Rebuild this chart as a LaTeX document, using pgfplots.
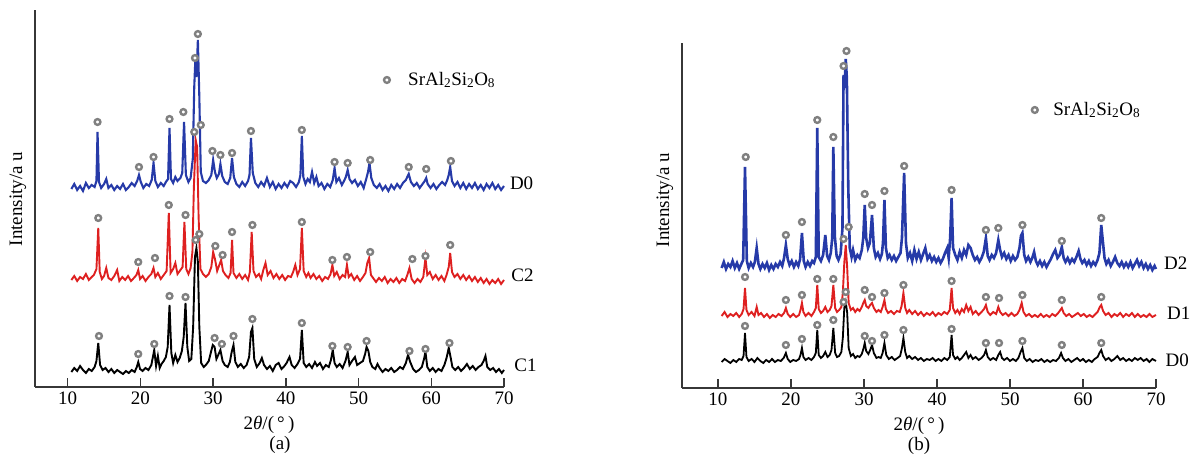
\documentclass[border=0pt]{standalone}
\usepackage{pgfplots}
\pgfplotsset{compat=1.18}
\usepackage{fontspec}
\setmainfont{Liberation Serif}
\definecolor{xblue}{RGB}{38,58,168}
\definecolor{xred}{RGB}{222,32,32}
\definecolor{xgray}{RGB}{128,128,128}
\definecolor{axgray}{RGB}{55,55,55}
\newcommand{\ff}{\fontsize{19}{22}\selectfont}
\pgfplotsset{
  xrdaxis/.style={
    scale only axis,
    axis lines=left,
    axis line style={-, axgray, line width=1.4pt},
    xtick={10,20,...,70},
    ytick=\empty,
    xmax=70, ymin=0,
    tick align=inside,
    major tick length=9pt,
    tick style={axgray, line width=1.4pt},
    xticklabel style={font=\ff, yshift=-1pt},
    /pgf/number format/assume math mode=true,
    clip=false,
    anchor=south west,
  },
  mk/.style={only marks, mark=*, mark size=2.9pt, mark options={draw=xgray, fill=white, line width=2.4pt}},
}
\begin{document}
\begin{tikzpicture}
\useasboundingbox (0pt,0pt) rectangle (1192pt,454pt);
% ---------------- panel (a) ----------------
\begin{axis}[xrdaxis, at={(35pt,67pt)}, width=469pt, height=377pt, xmin=5.5, ymax=377]
% D0 blue
\addplot[xblue, line width=2.1pt] coordinates {
(10.5,198)(10.9,203)(11.3,197)(11.7,201)(12.1,196)(12.5,204)(12.9,199)(13.3,202)(13.7,200)(13.95,206)(14.1,255)(14.3,205)(14.6,199)(15.0,203)(15.3,208)(15.6,199)(16.0,202)(16.4,197)(16.8,201)(17.2,198)(17.6,203)(18.0,197)(18.4,200)(18.8,204)(19.2,201)(19.55,206)(19.8,212)(20.05,205)(20.4,199)(20.8,203)(21.2,201)(21.55,207)(21.8,224)(22.05,206)(22.4,200)(22.8,204)(23.2,201)(23.5,205)(23.8,208)(24.0,259)(24.2,208)(24.5,204)(24.8,210)(25.1,206)(25.5,209)(25.75,214)(26.0,265)(26.25,212)(26.6,205)(26.9,209)(27.2,228)(27.4,300)(27.55,327)(27.7,310)(27.9,347)(28.1,290)(28.3,215)(28.6,206)(29.0,204)(29.4,207)(29.75,212)(30.0,227)(30.25,215)(30.5,209)(30.8,213)(31.0,223)(31.25,211)(31.6,205)(32.0,203)(32.35,209)(32.6,229)(32.85,210)(33.2,203)(33.6,200)(34.0,205)(34.4,201)(34.8,206)(35.0,212)(35.2,249)(35.45,214)(35.8,204)(36.2,200)(36.6,205)(37.0,201)(37.4,209)(37.8,200)(38.2,205)(38.6,198)(39.0,203)(39.4,199)(39.8,204)(40.2,200)(40.6,206)(41.0,204)(41.4,200)(41.8,205)(42.0,212)(42.2,251)(42.4,210)(42.7,203)(43.0,208)(43.3,205)(43.6,215)(43.9,204)(44.2,210)(44.5,201)(44.9,204)(45.3,198)(45.7,203)(46.1,200)(46.45,207)(46.7,219)(46.95,205)(47.3,209)(47.7,202)(48.0,206)(48.25,210)(48.5,217)(48.75,208)(49.1,204)(49.5,207)(49.9,201)(50.3,205)(50.7,199)(51.05,208)(51.3,215)(51.5,224)(51.75,209)(52.1,202)(52.5,199)(52.9,203)(53.3,197)(53.7,201)(54.1,196)(54.5,202)(54.9,198)(55.3,203)(55.7,199)(56.1,204)(56.5,207)(56.9,213)(57.2,205)(57.6,201)(58.0,204)(58.4,199)(58.8,203)(59.1,206)(59.3,209)(59.5,203)(59.9,199)(60.3,203)(60.7,198)(61.1,202)(61.5,205)(61.9,202)(62.2,207)(62.4,212)(62.6,220)(62.85,206)(63.2,201)(63.6,205)(64.0,199)(64.4,204)(64.8,198)(65.2,203)(65.6,199)(66.0,204)(66.4,198)(66.8,202)(67.2,197)(67.6,203)(68.0,199)(68.4,204)(68.8,198)(69.2,202)(69.6,197)(70.0,201)};
% C2 red
\addplot[xred, line width=1.9pt] coordinates {
(10.5,107)(10.9,111)(11.3,106)(11.7,110)(12.1,108)(12.5,113)(12.9,107)(13.3,110)(13.6,112)(13.95,118)(14.2,159)(14.4,115)(14.7,108)(15.0,111)(15.3,119)(15.6,109)(16.0,107)(16.4,111)(16.8,117)(17.1,106)(17.5,110)(17.9,107)(18.3,111)(18.7,106)(19.1,109)(19.45,112)(19.7,117)(19.95,108)(20.3,111)(20.7,106)(21.1,110)(21.5,113)(21.8,119)(22.05,110)(22.4,114)(22.8,108)(23.2,112)(23.6,116)(23.9,174)(24.15,114)(24.5,118)(24.8,124)(25.1,113)(25.5,117)(25.8,120)(26.05,165)(26.3,118)(26.6,113)(26.9,119)(27.15,135)(27.35,200)(27.6,247)(27.8,240)(28.0,170)(28.25,118)(28.6,113)(29.0,110)(29.4,113)(29.75,120)(30.0,135)(30.25,128)(30.55,116)(30.85,122)(31.1,127)(31.35,116)(31.7,112)(32.1,109)(32.4,114)(32.6,147)(32.8,114)(33.2,109)(33.6,113)(34.0,108)(34.4,112)(34.8,107)(35.05,115)(35.3,155)(35.55,116)(35.9,110)(36.3,113)(36.6,108)(36.9,117)(37.2,124)(37.5,112)(37.9,116)(38.3,109)(38.7,113)(39.1,108)(39.5,112)(39.9,107)(40.3,111)(40.7,110)(41.0,115)(41.3,122)(41.6,112)(41.95,118)(42.2,159)(42.45,116)(42.8,110)(43.1,114)(43.4,109)(43.8,113)(44.2,108)(44.6,111)(45.0,106)(45.4,110)(45.8,108)(46.15,113)(46.4,122)(46.65,111)(47.0,115)(47.4,108)(47.8,112)(48.15,110)(48.4,122)(48.65,110)(49.0,113)(49.4,107)(49.8,111)(50.2,106)(50.6,110)(50.95,114)(51.2,124)(51.45,129)(51.7,112)(52.0,109)(52.4,105)(52.8,109)(53.2,106)(53.6,110)(54.0,104)(54.4,108)(54.8,105)(55.2,109)(55.6,104)(56.0,108)(56.4,106)(56.7,112)(57.0,119)(57.3,108)(57.7,104)(58.1,108)(58.5,105)(58.9,110)(59.2,129)(59.45,112)(59.8,115)(60.2,108)(60.6,112)(61.0,107)(61.4,111)(61.8,106)(62.1,112)(62.4,120)(62.6,134)(62.85,115)(63.2,110)(63.6,113)(64.0,108)(64.4,112)(64.8,107)(65.2,111)(65.6,106)(66.0,110)(66.4,105)(66.8,109)(67.2,104)(67.6,108)(68.0,103)(68.4,107)(68.8,104)(69.2,108)(69.6,103)(70.0,107)};
% C1 black
\addplot[black, line width=1.9pt] coordinates {
(10.5,15)(10.9,19)(11.3,16)(11.7,21)(12.1,17)(12.5,14)(12.9,18)(13.3,16)(13.7,20)(13.95,26)(14.2,44)(14.45,22)(14.8,17)(15.2,19)(15.6,15)(16.0,18)(16.4,14)(16.8,17)(17.2,15)(17.6,13)(18.0,16)(18.4,14)(18.8,17)(19.2,15)(19.5,20)(19.7,25)(19.95,18)(20.3,16)(20.7,19)(21.1,17)(21.5,22)(21.9,37)(22.15,21)(22.4,31)(22.65,19)(22.9,23)(23.2,26)(23.5,30)(23.75,40)(24.0,82)(24.25,34)(24.5,24)(24.8,32)(25.1,25)(25.4,29)(25.7,36)(25.95,50)(26.2,84)(26.45,40)(26.7,26)(27.0,28)(27.25,60)(27.5,130)(27.7,139)(27.9,125)(28.1,60)(28.35,24)(28.7,20)(29.0,22)(29.4,26)(29.7,35)(29.95,42)(30.2,40)(30.45,28)(30.7,32)(31.0,37)(31.3,26)(31.6,22)(32.0,20)(32.3,25)(32.55,35)(32.8,42)(33.05,25)(33.4,20)(33.8,23)(34.2,19)(34.6,22)(34.95,30)(35.2,55)(35.4,59)(35.65,28)(36.0,20)(36.4,24)(36.7,29)(37.0,22)(37.4,18)(37.8,21)(38.2,16)(38.6,22)(39.0,24)(39.4,18)(39.8,21)(40.1,24)(40.5,30)(40.8,22)(41.2,19)(41.6,23)(41.95,28)(42.2,57)(42.45,24)(42.8,20)(43.2,23)(43.6,19)(44.0,25)(44.3,21)(44.7,24)(45.1,18)(45.5,22)(45.9,20)(46.2,27)(46.45,37)(46.7,24)(47.0,20)(47.4,23)(47.8,19)(48.2,26)(48.5,35)(48.75,22)(49.1,26)(49.5,30)(49.8,22)(50.2,24)(50.6,26)(50.9,33)(51.1,40)(51.35,36)(51.6,25)(51.9,20)(52.3,18)(52.6,23)(52.9,19)(53.3,15)(53.7,18)(54.1,16)(54.5,19)(54.9,15)(55.3,17)(55.7,20)(56.1,18)(56.5,24)(56.8,32)(57.1,25)(57.5,18)(57.9,15)(58.3,17)(58.7,20)(59.0,28)(59.2,35)(59.45,20)(59.8,16)(60.2,19)(60.6,15)(61.0,18)(61.4,16)(61.8,22)(62.1,29)(62.4,39)(62.65,30)(62.9,20)(63.3,17)(63.7,20)(64.1,16)(64.5,19)(64.9,23)(65.3,18)(65.7,21)(66.1,17)(66.5,20)(66.9,22)(67.2,26)(67.45,31)(67.7,20)(68.1,17)(68.5,19)(68.9,15)(69.3,18)(69.7,14)(70.0,17)};
% markers
\addplot[mk] coordinates {(14.1,265)(19.8,220)(21.8,230)(24.0,268)(25.9,275)(27.5,329)(27.9,353)(29.9,236)(31.0,232)(32.6,234)(35.2,256)(42.2,257)(46.7,225)(48.5,224)(51.6,227)(56.9,220)(59.3,218)(62.7,226)};
\addplot[mk] coordinates {(14.2,169)(19.7,125)(22.0,129)(23.9,182)(26.2,172)(27.4,255)(28.3,262)(30.3,141)(31.3,132)(32.6,155)(35.4,162)(42.2,165)(46.4,127)(48.4,130)(51.6,135)(57.4,128)(59.2,131)(62.6,142)};
\addplot[mk] coordinates {(14.3,51)(19.7,33)(21.9,43)(24.0,91)(26.2,90)(27.6,147)(28.1,153)(30.2,49)(31.2,43)(32.8,51)(35.4,68)(42.2,64)(46.4,41)(48.5,40)(51.1,46)(57.0,36)(59.2,38)(62.5,44)};
% legend marker
\addplot[mk] coordinates {(53.9,307)};
\node[anchor=west, font=\ff, inner sep=0pt] at (axis cs:56.8,307) {SrAl\textsubscript{2}Si\textsubscript{2}O\textsubscript{8}};
\node[anchor=west, font=\ff, inner sep=0pt] at (axis cs:70.8,204) {D0};
\node[anchor=west, font=\ff, inner sep=0pt] at (axis cs:71.0,112) {C2};
\node[anchor=west, font=\ff, inner sep=0pt] at (axis cs:71.4,22) {C1};
\end{axis}
\node[font=\ff, rotate=90] at (18pt,255pt) {Intensity/a u};
\node[font=\ff] at (269pt,29pt) {2\textit{θ}/(\,°\,)};
\node[font=\ff] at (280pt,9pt) {(a)};
% ---------------- panel (b) ----------------
\begin{axis}[xrdaxis, at={(682pt,66pt)}, width=474pt, height=345pt, xmin=5.07, ymax=345]
% D2 blue
\addplot[xblue, line width=2.6pt] coordinates {
(10.5,120)(10.8,126)(11.1,119)(11.4,124)(11.7,121)(12.0,127)(12.3,120)(12.6,125)(12.9,119)(13.2,124)(13.45,128)(13.7,221)(13.95,127)(14.2,120)(14.5,125)(14.8,121)(15.05,126)(15.3,140)(15.55,124)(15.8,119)(16.1,124)(16.4,120)(16.7,125)(17.0,118)(17.3,123)(17.6,119)(17.9,124)(18.2,121)(18.5,126)(18.8,122)(19.05,130)(19.3,143)(19.55,129)(19.8,123)(20.1,127)(20.4,121)(20.7,126)(21.0,122)(21.25,129)(21.5,155)(21.75,127)(22.0,121)(22.3,126)(22.6,122)(22.9,127)(23.15,125)(23.4,131)(23.6,260)(23.8,131)(24.1,127)(24.4,133)(24.7,153)(24.95,132)(25.2,128)(25.45,135)(25.65,150)(25.8,241)(26.0,152)(26.25,132)(26.5,128)(26.8,134)(27.05,160)(27.2,313)(27.35,300)(27.5,329)(27.65,310)(27.85,200)(28.05,140)(28.3,131)(28.5,138)(28.8,128)(29.1,133)(29.4,130)(29.7,138)(29.9,150)(30.1,183)(30.3,150)(30.55,140)(30.8,145)(31.1,173)(31.35,140)(31.6,131)(31.9,135)(32.2,129)(32.45,134)(32.6,145)(32.8,188)(33.0,140)(33.25,130)(33.5,133)(33.8,128)(34.1,132)(34.4,127)(34.7,131)(35.0,135)(35.2,150)(35.5,215)(35.75,145)(36.0,130)(36.3,135)(36.6,127)(36.9,138)(37.2,129)(37.5,136)(37.8,128)(38.1,134)(38.4,140)(38.7,129)(39.0,133)(39.3,127)(39.6,131)(39.9,126)(40.2,130)(40.5,125)(40.8,129)(41.1,135)(41.4,140)(41.6,130)(41.8,150)(42.0,190)(42.2,140)(42.5,133)(42.8,128)(43.1,136)(43.4,130)(43.7,138)(44.0,133)(44.3,143)(44.6,140)(44.9,133)(45.2,128)(45.5,131)(45.8,126)(46.1,130)(46.4,136)(46.7,150)(46.95,132)(47.2,128)(47.5,133)(47.8,130)(48.1,135)(48.4,148)(48.65,138)(48.9,131)(49.2,135)(49.5,129)(49.8,133)(50.1,127)(50.4,132)(50.7,128)(51.0,131)(51.3,140)(51.5,152)(51.7,155)(51.95,133)(52.2,127)(52.5,131)(52.8,126)(53.05,130)(53.3,136)(53.55,127)(53.8,123)(54.1,127)(54.4,122)(54.7,126)(55.0,121)(55.3,125)(55.6,129)(55.9,134)(56.2,138)(56.5,130)(56.8,133)(57.1,141)(57.35,130)(57.6,126)(57.9,130)(58.2,125)(58.5,129)(58.8,126)(59.1,131)(59.4,137)(59.65,129)(59.9,125)(60.2,128)(60.5,123)(60.8,127)(61.1,122)(61.4,126)(61.7,123)(62.0,128)(62.25,135)(62.5,163)(62.7,148)(62.95,130)(63.2,124)(63.5,128)(63.8,122)(64.1,126)(64.4,131)(64.7,125)(65.0,122)(65.3,126)(65.6,121)(65.9,125)(66.2,121)(66.5,126)(66.8,120)(67.1,124)(67.4,128)(67.7,122)(68.0,126)(68.3,120)(68.6,124)(68.9,119)(69.2,123)(69.5,118)(69.8,122)(70.0,119)};
% D1 red
\addplot[xred, line width=1.9pt] coordinates {
(10.5,72)(10.9,76)(11.3,71)(11.7,74)(12.1,72)(12.5,75)(12.9,71)(13.25,74)(13.5,79)(13.7,100)(13.9,78)(14.2,73)(14.6,76)(15.0,72)(15.3,81)(15.55,73)(15.9,75)(16.3,71)(16.7,74)(17.1,70)(17.5,73)(17.9,71)(18.3,74)(18.7,72)(19.05,75)(19.3,80)(19.55,74)(19.9,71)(20.3,74)(20.7,71)(21.1,73)(21.3,78)(21.5,85)(21.7,76)(22.0,72)(22.4,75)(22.8,72)(23.15,76)(23.4,80)(23.6,103)(23.8,79)(24.1,75)(24.4,77)(24.7,81)(25.0,76)(25.3,78)(25.55,82)(25.8,103)(26.05,80)(26.3,76)(26.6,78)(26.9,81)(27.1,95)(27.3,125)(27.5,143)(27.7,120)(27.9,85)(28.2,78)(28.5,80)(28.8,76)(29.1,79)(29.4,77)(29.7,81)(29.9,85)(30.1,88)(30.3,82)(30.6,80)(30.85,83)(31.1,85)(31.35,80)(31.7,76)(32.0,78)(32.3,76)(32.55,81)(32.8,88)(33.0,79)(33.3,75)(33.7,77)(34.1,74)(34.5,77)(34.9,76)(35.15,82)(35.4,95)(35.65,80)(35.9,75)(36.2,78)(36.6,74)(37.0,77)(37.4,73)(37.8,76)(38.2,72)(38.6,75)(39.0,73)(39.4,76)(39.8,72)(40.2,75)(40.6,73)(41.0,76)(41.4,74)(41.75,78)(42.0,100)(42.2,80)(42.5,75)(42.8,78)(43.1,74)(43.4,79)(43.7,76)(44.0,83)(44.3,77)(44.6,81)(44.9,74)(45.3,77)(45.7,73)(46.1,76)(46.45,79)(46.7,83)(46.95,76)(47.3,73)(47.7,76)(48.1,74)(48.4,81)(48.65,76)(49.0,73)(49.4,75)(49.8,72)(50.2,75)(50.6,72)(51.0,74)(51.3,78)(51.6,85)(51.85,76)(52.2,72)(52.6,74)(53.0,71)(53.4,73)(53.8,71)(54.2,74)(54.6,71)(55.0,73)(55.4,71)(55.8,74)(56.2,72)(56.6,75)(56.9,78)(57.1,80)(57.35,75)(57.7,72)(58.1,74)(58.5,71)(58.9,73)(59.3,75)(59.7,72)(60.1,74)(60.5,71)(60.9,73)(61.3,71)(61.7,74)(62.0,76)(62.3,81)(62.5,83)(62.75,77)(63.1,73)(63.5,75)(63.9,71)(64.3,74)(64.7,72)(65.1,75)(65.5,71)(65.9,74)(66.3,72)(66.7,75)(67.1,71)(67.5,74)(67.9,71)(68.3,73)(68.7,71)(69.1,74)(69.5,71)(70.0,73)};
% D0 black
\addplot[black, line width=1.8pt] coordinates {
(10.5,26)(10.9,29)(11.3,27)(11.7,25)(12.1,28)(12.5,26)(12.9,29)(13.25,28)(13.5,32)(13.7,55)(13.9,31)(14.2,27)(14.6,29)(15.0,26)(15.4,30)(15.8,27)(16.2,25)(16.6,28)(17.0,26)(17.4,29)(17.8,26)(18.2,28)(18.6,27)(19.0,30)(19.3,35)(19.55,29)(19.9,26)(20.3,28)(20.7,27)(21.1,29)(21.3,33)(21.5,40)(21.7,31)(22.0,28)(22.4,30)(22.8,28)(23.15,31)(23.4,35)(23.6,58)(23.8,33)(24.1,30)(24.4,32)(24.7,36)(25.0,31)(25.3,33)(25.55,38)(25.8,60)(26.05,35)(26.3,31)(26.6,32)(26.9,36)(27.1,50)(27.3,80)(27.5,86)(27.7,75)(27.9,40)(28.2,32)(28.5,34)(28.8,30)(29.1,32)(29.4,31)(29.7,34)(29.95,40)(30.1,45)(30.3,37)(30.6,34)(30.85,38)(31.1,43)(31.35,35)(31.7,30)(32.0,31)(32.3,30)(32.55,35)(32.8,45)(33.05,33)(33.4,29)(33.8,31)(34.2,28)(34.6,30)(34.95,32)(35.2,40)(35.4,50)(35.65,36)(35.9,30)(36.2,32)(36.6,29)(37.0,31)(37.4,28)(37.8,30)(38.2,27)(38.6,29)(39.0,28)(39.4,30)(39.8,27)(40.2,29)(40.6,27)(41.0,30)(41.4,28)(41.75,31)(42.0,53)(42.2,33)(42.5,29)(42.8,31)(43.1,28)(43.4,30)(43.7,33)(44.0,36)(44.3,30)(44.6,33)(44.9,29)(45.3,31)(45.7,28)(46.1,30)(46.45,33)(46.7,38)(46.95,31)(47.3,28)(47.7,30)(48.1,28)(48.4,33)(48.65,36)(48.9,30)(49.2,28)(49.6,30)(50.0,27)(50.4,29)(50.8,27)(51.15,30)(51.45,36)(51.7,40)(51.95,30)(52.3,27)(52.7,29)(53.1,26)(53.5,28)(53.9,27)(54.3,29)(54.7,26)(55.1,28)(55.5,26)(55.9,28)(56.3,27)(56.7,30)(57.0,35)(57.25,30)(57.6,27)(58.0,29)(58.4,26)(58.8,28)(59.2,30)(59.6,27)(60.0,29)(60.4,26)(60.8,28)(61.2,26)(61.6,29)(62.0,31)(62.25,35)(62.5,38)(62.75,32)(63.1,28)(63.5,30)(63.9,27)(64.3,29)(64.7,32)(65.1,28)(65.5,30)(65.9,27)(66.3,29)(66.7,27)(67.1,30)(67.5,28)(67.9,30)(68.3,27)(68.7,29)(69.1,26)(69.5,29)(70.0,27)};
% markers
\addplot[mk] coordinates {(13.8,231)(19.3,153)(21.5,166)(23.6,268)(25.8,251)(27.2,322)(27.6,337)(30.1,194)(31.1,183)(32.8,197)(35.5,222)(42.0,198)(46.7,158)(48.4,160)(51.7,163)(57.1,147)(62.5,170)};
\addplot[mk] coordinates {(13.7,111)(19.3,88)(21.5,93)(23.6,109)(25.8,109)(27.2,149)(27.9,161)(30.1,98)(31.1,91)(32.8,95)(35.4,103)(42.0,107)(46.7,91)(48.5,90)(51.7,93)(57.1,88)(62.5,91)};
\addplot[mk] coordinates {(13.7,62)(19.3,43)(21.5,49)(23.6,63)(25.8,68)(27.2,86)(27.5,96)(30.1,52)(31.1,47)(32.8,53)(35.4,58)(42.0,59)(46.7,45)(48.5,45)(51.7,47)(57.1,43)(62.5,45)};
% legend marker
\addplot[mk] coordinates {(53.4,278)};
\node[anchor=west, font=\ff, inner sep=0pt] at (axis cs:55.9,278) {SrAl\textsubscript{2}Si\textsubscript{2}O\textsubscript{8}};
\node[anchor=west, font=\ff, inner sep=0pt] at (axis cs:71.1,125) {D2};
\node[anchor=west, font=\ff, inner sep=0pt] at (axis cs:71.5,75) {D1};
\node[anchor=west, font=\ff, inner sep=0pt] at (axis cs:71.3,28) {D0};
\end{axis}
\node[font=\ff, rotate=90] at (665pt,254pt) {Intensity/a u};
\node[font=\ff] at (919pt,28pt) {2\textit{θ}/(\,°\,)};
\node[font=\ff] at (919pt,8pt) {(b)};
\end{tikzpicture}
\end{document}
